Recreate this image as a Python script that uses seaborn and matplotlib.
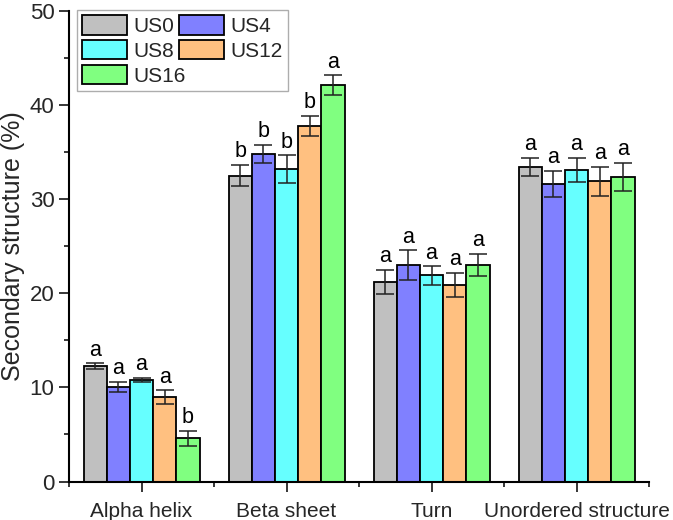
import matplotlib
matplotlib.use("Agg")
import matplotlib.pyplot as plt
import seaborn as sns
import pandas as pd
import numpy as np
from matplotlib.ticker import MultipleLocator, FixedLocator

categories = ["Alpha helix", "Beta sheet", "Turn", "Unordered structure"]
groups = ["US0", "US4", "US8", "US12", "US16"]

us0 = [12.27, 32.5, 21.2, 33.45]
us4 = [10.08, 34.8, 23.0, 31.6]
us8 = [10.79, 33.2, 21.9, 33.1]
us12 = [8.95, 37.8, 20.9, 31.9]
us16 = [4.59, 42.1, 23.0, 32.4]

err0 = [0.28, 1.15, 1.3, 0.94]
err4 = [0.52, 0.95, 1.55, 1.4]
err8 = [0.25, 1.45, 0.97, 1.3]
err12 = [0.73, 1.05, 1.25, 1.55]
err16 = [0.78, 1.05, 1.2, 1.5]

sig0 = ["a", "b", "a", "a"]
sig4 = ["a", "b", "a", "a"]
sig8 = ["a", "b", "a", "a"]
sig12 = ["a", "b", "a", "a"]
sig16 = ["b", "a", "a", "a"]

colors = ["#C0C0C0", "#8080FF", "#66FFFF", "#FFC080", "#80FF80"]

values = [us0, us4, us8, us12, us16]
errors = [err0, err4, err8, err12, err16]
sigs = [sig0, sig4, sig8, sig12, sig16]

rows = []
for g, vals, errs, ss in zip(groups, values, errors, sigs):
    for c, v, e, s in zip(categories, vals, errs, ss):
        rows.append({"category": c, "group": g, "value": v, "err": e, "sig": s})
df = pd.DataFrame(rows)

sns.set_style("ticks")
plt.rcParams["font.family"] = ["Liberation Sans", "DejaVu Sans"]

fig = plt.figure(figsize=(6.73, 5.2), dpi=100)
ax = fig.add_axes([69 / 673, 1 - 481.5 / 520, (649 - 69) / 673, (481.5 - 11) / 520])

sns.barplot(data=df, x="category", y="value", hue="group", order=categories,
            hue_order=groups, palette=colors, edgecolor="black", linewidth=1.3,
            width=0.8, errorbar=None, saturation=1, ax=ax)

# error bars and letters
patches = [p for p in ax.patches if p.get_height() > 0]
for gi, g in enumerate(groups):
    sub = df[df.group == g].set_index("category").loc[categories]
    for ci, c in enumerate(categories):
        p = patches[gi * len(categories) + ci]
        xc = p.get_x() + p.get_width() / 2
        v = sub.loc[c, "value"]
        e = sub.loc[c, "err"]
        ax.errorbar(xc, v, yerr=e, fmt="none", ecolor="#222222", elinewidth=1.1,
                    capsize=6.5, capthick=1.1, zorder=5)
        ax.annotate(sub.loc[c, "sig"], xy=(xc, v + e), xytext=(0, 2),
                    textcoords="offset points", ha="center", va="bottom",
                    fontsize=15.5, color="black")

ax.set_ylim(0, 50)
ax.set_xlim(-0.5, 3.5)
ax.yaxis.set_major_locator(MultipleLocator(10))
ax.yaxis.set_minor_locator(MultipleLocator(5))
ax.xaxis.set_minor_locator(FixedLocator([-0.5, 0.5, 1.5, 2.5, 3.5]))
ax.tick_params(axis="both", which="major", length=7, width=1.1, labelsize=15,
               direction="out", color="black")
ax.tick_params(axis="y", which="major", labelsize=16)
ax.tick_params(axis="both", which="minor", length=3.6, width=1.1, direction="out",
               color="black")
ax.tick_params(axis="x", which="major", pad=8)
for s in ["left", "bottom"]:
    ax.spines[s].set_linewidth(1.5)
    ax.spines[s].set_color("black")
sns.despine(ax=ax)

ax.set_xlabel("")
ax.set_ylabel("Secondary structure (%)", fontsize=18, labelpad=3)

handles, labels = ax.get_legend_handles_labels()
order = [0, 2, 4, 1, 3]
leg = ax.legend([handles[i] for i in order], [labels[i] for i in order], ncol=2,
                loc="upper left",
                bbox_to_anchor=(77 / 673, 1 - 10 / 520), bbox_transform=fig.transFigure,
                fontsize=15, frameon=True, fancybox=False, edgecolor="#999999",
                handlelength=2.15, handleheight=1.05, handletextpad=0.3,
                columnspacing=-0.3, labelspacing=0.2, borderpad=0.25,
                borderaxespad=0)
leg.get_frame().set_linewidth(1.0)

fig.savefig("out.png", dpi=100)
